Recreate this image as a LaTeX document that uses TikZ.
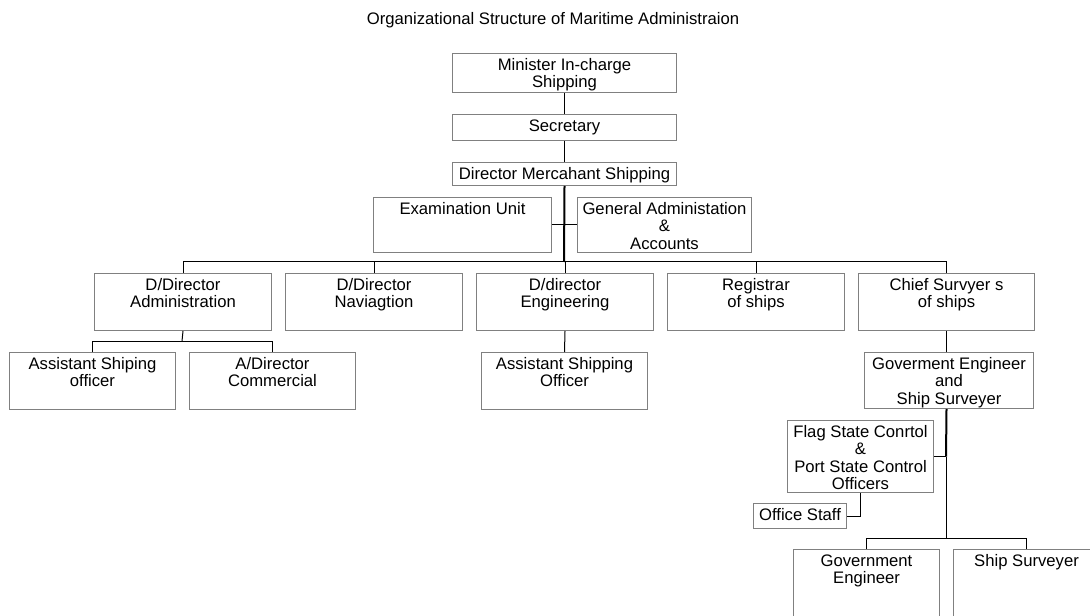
\documentclass[tikz,border=0pt]{standalone}
\usepackage{fontspec}
\setmainfont{Liberation Sans}
\newlength\px
\setlength\px{0.6pt}

\begin{document}
\begin{tikzpicture}[x=0.6pt,y=-0.6pt,
	unit/.style 2 args={draw=gray,line width=0.6pt,inner sep=0pt,anchor=north west,
		font=\fontsize{10}{10.5}\selectfont,
		execute at begin node={\begin{minipage}[t][#2\px][t]{#1\px}\centering\vspace*{4.5\px}\strut},
		execute at end node={\end{minipage}}},
	link/.style={line width=0.6pt},
	trunk/.style={line width=1.2pt}]

\clip (0,0) rectangle (1090,616);

\node[font=\fontsize{10}{12}\selectfont] (title) at (553,20) {Organizational Structure of Maritime Administraion};

\node[unit={224}{39}] (mini) at (452,53) {Minister In-charge\\Shipping};
\node[unit={224}{26}] (sec) at (452,114) {Secretary};
\node[unit={224}{23}] (dms) at (452,162) {Director Mercahant Shipping};
\node[unit={178}{55}] (exam) at (373,197) {Examination Unit};
\node[unit={174}{55}] (genadm) at (577,197) {General Administation\\\&\\Accounts};

\node[unit={177}{57}] (ddadm) at (94,273) {D/Director\\Administration};
\node[unit={177}{57}] (ddnav) at (285,273) {D/Director\\Naviagtion};
\node[unit={177}{57}] (ddeng) at (476,273) {D/director\\Engineering};
\node[unit={177}{57}] (reg) at (667,273) {Registrar\\of ships};
\node[unit={176}{57}] (chief) at (858,273) {Chief Survyer s\\of ships};

\node[unit={166}{57}] (aso) at (9,352) {Assistant Shiping\\officer};
\node[unit={166}{57}] (adc) at (189,352) {A/Director\\Commercial};
\node[unit={166}{57}] (aso2) at (481,352) {Assistant Shipping\\Officer};
\node[unit={169}{56}] (gess) at (864,352) {Goverment Engineer\\and\\Ship Surveyer};

\node[unit={146}{72}] (fsc) at (787,420) {Flag State Conrtol\\\&\\Port State Control\\Officers};
\node[unit={93}{25}] (staff) at (753,503) {Office Staff};
\node[unit={146}{100}] (goveng) at (793,549) {Government\\Engineer};
\node[unit={146}{100}] (shipsurv) at (953,549) {Ship Surveyer};

\coordinate (bus) at (564,262);
\coordinate (admbus) at (182,341);
\coordinate (sbus) at (946,538);

\draw[link] (mini.south) -- (sec.north);
\draw[link] (sec.south) -- (dms.north);
\draw[trunk] (dms.south) -- (bus);
\draw[link] (exam.east) -- (genadm.west);

\draw[link] (ddadm.north) -- (ddadm.north |- bus) -- (chief.north |- bus) -- (chief.north);
\foreach \n in {ddnav,ddeng,reg}{
	\draw[link] (\n.north) -- (\n.north |- bus);
}

\draw[link] (ddadm.south) -- (admbus);
\draw[link] (aso.north) -- (aso.north |- admbus) -- (adc.north |- admbus) -- (adc.north);
\draw[link] (ddeng.south) -- (aso2.north);
\draw[link] (chief.south) -- (chief.south |- gess.north);

\draw[trunk] (chief.south |- gess.south) -- (fsc.east -| sbus);
\draw[link] (fsc.east -| sbus) -- (sbus);
\draw[link] (fsc.east) -- (fsc.east -| sbus);
\draw[link] (fsc.south) -- (fsc.south |- staff.east) -- (staff.east);
\draw[link] (goveng.north) -- (goveng.north |- sbus) -- (shipsurv.north |- sbus) -- (shipsurv.north);

\end{tikzpicture}
\end{document}
